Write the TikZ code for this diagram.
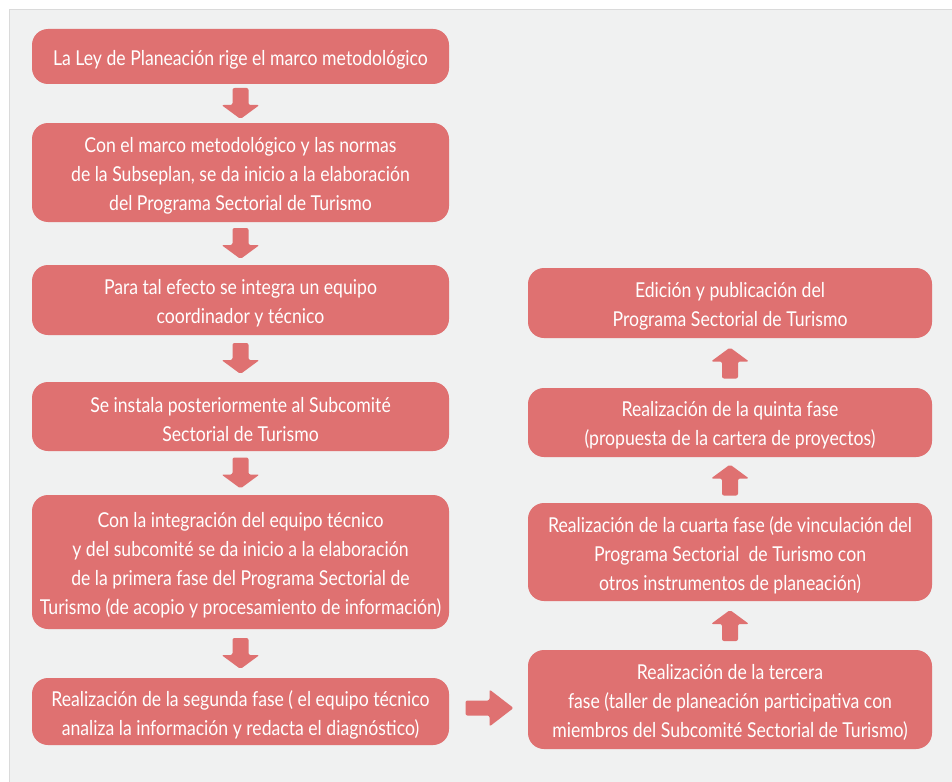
\documentclass[tikz,border=0pt]{standalone}
\usepackage{fontspec}
\setmainfont{Lato}[FakeStretch=0.86]
\usetikzlibrary{calc}
\definecolor{boxred}{HTML}{DF7171}
\definecolor{panelfill}{HTML}{F0F1F1}
\definecolor{panelline}{HTML}{DADADA}
\tikzset{
  boxtext/.style={text=white, align=center, font=\fontsize{20.5}{29}\selectfont, inner sep=0pt, yshift=-3pt},
  box/.style={rounded corners=16pt, fill=boxred, inner sep=0pt,
    label={[boxtext]center:{#1}}},
  lbox/.style={box={#1}, minimum width=417pt},
  rbox/.style={box={#1}, minimum width=404pt},
  pics/darrow/.style={code={
    \fill[boxred, rounded corners=2pt] (-8,-15.5) -- (8,-15.5) -- (8,1.5) -- (19,1.5)
      -- (0,15.5) -- (-19,1.5) -- (-8,1.5) -- cycle;}},
  pics/uarrow/.style={code={
    \fill[boxred, rounded corners=2pt] (-8,15.5) -- (8,15.5) -- (8,-1.5) -- (19,-1.5)
      -- (0,-15.5) -- (-19,-1.5) -- (-8,-1.5) -- cycle;}},
  pics/rarrow/.style={code={
    \fill[boxred, rounded corners=2pt] (-24,-7.5) -- (0,-7.5) -- (0,-18.5) -- (24,0)
      -- (0,18.5) -- (0,7.5) -- (-24,7.5) -- cycle;}},
}
\begin{document}
\begin{tikzpicture}[x=1pt,y=-1pt]
\useasboundingbox (0,0) rectangle (952,781);
\fill[white] (0,0) rectangle (952,781);
\filldraw[fill=panelfill, draw=panelline, line width=1.5pt] (9.5,9.5) rectangle (960,790);

\node[lbox={La Ley de Planeación rige el marco metodológico}, minimum height=55pt] (b1) at (240.5,56.5) {};
\node[lbox={Con el marco metodológico y las normas\\de la Subseplan, se da inicio a la elaboración\\del Programa Sectorial de Turismo}, minimum height=99pt] (b2) at (240.5,172.5) {};
\node[lbox={Para tal efecto se integra un equipo\\coordinador y técnico}, minimum height=70pt] (b3) at (240.5,300) {};
\node[lbox={Se instala posteriormente al Subcomité\\Sectorial de Turismo}, minimum height=69pt] (b4) at (240.5,416.5) {};
\node[lbox={Con la integración del equipo técnico\\y del subcomité se da inicio a la elaboración\\de la primera fase del Programa Sectorial de\\Turismo (de acopio y procesamiento de información)}, minimum height=134pt] (b5) at (240.5,562) {};
\node[lbox={Realización de la segunda fase ( el equipo técnico\\analiza la información y redacta el diagnóstico)}, minimum height=67pt] (b6) at (240.5,711.5) {};

\node[rbox={Edición y publicación del\\Programa Sectorial de Turismo}, minimum height=70pt] (r1) at (730,303) {};
\node[rbox={Realización de la quinta fase\\(propuesta de la cartera de proyectos)}, minimum height=69pt] (r2) at (730,422.5) {};
\node[rbox={Realización de la cuarta fase (de vinculación del\\Programa Sectorial\ \ de Turismo con\\otros instrumentos de planeación)}, minimum height=98pt] (r3) at (730,552) {};
\node[rbox={Realización de la tercera\\fase (taller de planeación participativa con\\miembros del Subcomité Sectorial de Turismo)}, minimum height=99pt] (r4) at (730,699.5) {};

\path ($(b1.south)!0.5!(b2.north)$) pic {darrow};
\path ($(b2.south)!0.5!(b3.north)$) pic {darrow};
\path ($(b3.south)!0.5!(b4.north)$) pic {darrow};
\path ($(b4.south)!0.5!(b5.north)$) pic {darrow};
\path ($(b5.south)!0.5!(b6.north)$) pic {darrow};
\path ($(b6.east)!0.5!(r4.west)+(1,2.5)$) pic {rarrow};
\path ($(r4.north)!0.5!(r3.south)$) pic {uarrow};
\path ($(r3.north)!0.5!(r2.south)$) pic {uarrow};
\path ($(r2.north)!0.5!(r1.south)$) pic {uarrow};
\end{tikzpicture}
\end{document}
